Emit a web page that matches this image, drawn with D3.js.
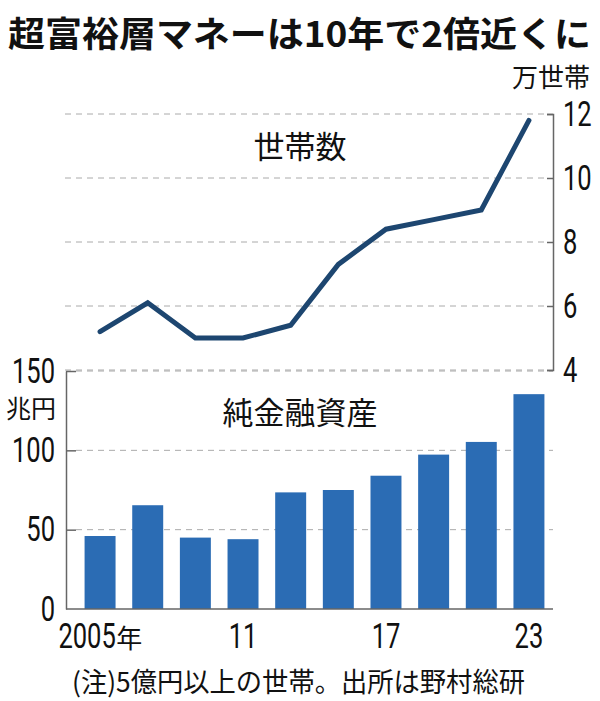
<!DOCTYPE html>
<html>
<head>
<meta charset="utf-8">
<script src="https://cdn.jsdelivr.net/npm/d3@7"></script>
<style>
  body { margin: 0; background: #fff; }
  svg { display: block; }
</style>
</head>
<body>
<div id="chart"></div>
<script>
const width = 600;
const height = 701;

// データ
const years = ["2005", "2007", "2009", "2011", "2013", "2015", "2017", "2019", "2021", "2023"];
const households = [5.2, 6.1, 5.0, 5.0, 5.4, 7.3, 8.4, 8.7, 9.0, 11.8]; // 万世帯
const assets = [46.0, 65.4, 45.0, 44.0, 73.5, 75.0, 84.0, 97.3, 105.3, 135.4]; // 兆円
const householdTicks = [4, 6, 8, 10, 12];
const assetTicks = [0, 50, 100, 150];
const xLabels = { "2005": "2005", "2011": "11", "2017": "17", "2023": "23" };

const numFont = "Roboto, 'Liberation Sans', sans-serif";
const jpFont = "'Noto Sans CJK JP', 'Noto Sans', sans-serif";
const numSize = 35;
const squeeze = 0.73; // 数字を細長くする横倍率
const digitW = 19.7 * squeeze;

const svg = d3.select("#chart").append("svg")
    .attr("width", width)
    .attr("height", height);

// スケール
const x = d3.scaleBand()
    .domain(years)
    .range([76, 553])
    .paddingInner(0.35)
    .paddingOuter(0.18);

const yLine = d3.scaleLinear().domain([4, 12]).range([370, 114]);
const yBar = d3.scaleLinear().domain([0, 150]).range([609, 371]);

// タイトル
svg.append("text")
    .attr("x", 8)
    .attr("y", 31)
    .attr("dominant-baseline", "central")
    .attr("font-family", jpFont)
    .attr("font-weight", "bold")
    .attr("font-size", 35)
    .attr("textLength", 583)
    .attr("lengthAdjust", "spacingAndGlyphs")
    .attr("fill", "#111")
    .text("超富裕層マネーは10年で2倍近くに");

// 上段：世帯数のグリッド
svg.append("g")
    .selectAll("line")
    .data(householdTicks)
    .join("line")
    .attr("x1", 65)
    .attr("x2", 547)
    .attr("y1", d => yLine(d))
    .attr("y2", d => yLine(d))
    .attr("stroke", "#aaa")
    .attr("stroke-width", 1)
    .attr("stroke-dasharray", "6,5");

// 下段：資産のグリッド
svg.append("g")
    .selectAll("line")
    .data(assetTicks.filter(d => d > 0))
    .join("line")
    .attr("x1", 76)
    .attr("x2", 553)
    .attr("y1", d => yBar(d))
    .attr("y2", d => yBar(d))
    .attr("stroke", "#aaa")
    .attr("stroke-width", 1)
    .attr("stroke-dasharray", "6,5");

// 棒グラフ
svg.append("g")
    .selectAll("rect")
    .data(years)
    .join("rect")
    .attr("x", d => x(d))
    .attr("width", x.bandwidth())
    .attr("y", (d, i) => yBar(assets[i]))
    .attr("height", (d, i) => yBar(0) - yBar(assets[i]))
    .attr("fill", "#2b6cb4");

// 折れ線
const line = d3.line()
    .x((d, i) => x(years[i]) + x.bandwidth() / 2)
    .y(d => yLine(d));

svg.append("path")
    .datum(households)
    .attr("d", line)
    .attr("fill", "none")
    .attr("stroke", "#1d4670")
    .attr("stroke-width", 5)
    .attr("stroke-linejoin", "miter")
    .attr("stroke-linecap", "round");

// 右軸（世帯数）
const rightAxis = svg.append("g")
    .attr("transform", "translate(553,0)")
    .call(d3.axisRight(yLine).tickValues(householdTicks).tickSize(-6).tickSizeOuter(-6).tickPadding(10));

// 左軸（資産）
const leftAxis = svg.append("g")
    .attr("transform", "translate(66,0)")
    .call(d3.axisLeft(yBar).tickValues(assetTicks).tickSize(-10).tickSizeOuter(0).tickPadding(11));

[rightAxis, leftAxis].forEach(g => {
    g.select(".domain").attr("stroke", "#666").attr("stroke-width", 1.5);
    g.selectAll(".tick line").attr("stroke", "#666").attr("stroke-width", 1.5);
    g.selectAll(".tick text").each(function() {
        const t = d3.select(this);
        const tx = +t.attr("x");
        t.attr("x", 0)
            .attr("transform", `translate(${tx},0) scale(${squeeze},1)`)
            .attr("font-family", numFont)
            .attr("font-size", numSize)
            .attr("fill", "#111");
    });
});
leftAxis.selectAll(".tick").filter(d => d === 0).select("line").remove();

// 基線
svg.append("line")
    .attr("x1", 66)
    .attr("x2", 553)
    .attr("y1", yBar(0))
    .attr("y2", yBar(0))
    .attr("stroke", "#666")
    .attr("stroke-width", 1.5);

// 横軸ラベル（数字部分と「年」を分けて配置）
const labelYears = years.filter(d => xLabels[d]);
const nenW = 26;
const digitsRight = d => {
    const cx = x(d) + x.bandwidth() / 2;
    const w = xLabels[d].length * digitW + (d === "2005" ? nenW : 0);
    return cx - w / 2 + xLabels[d].length * digitW;
};

svg.append("g")
    .selectAll("text")
    .data(labelYears)
    .join("text")
    .attr("transform", d => `translate(${digitsRight(d)},636) scale(${squeeze},1)`)
    .attr("dominant-baseline", "central")
    .attr("text-anchor", "end")
    .attr("font-family", numFont)
    .attr("font-size", numSize)
    .attr("fill", "#111")
    .text(d => xLabels[d]);

svg.append("text")
    .attr("x", digitsRight("2005") + 0.5)
    .attr("y", 636)
    .attr("dominant-baseline", "central")
    .attr("font-family", jpFont)
    .attr("font-size", nenW)
    .attr("fill", "#111")
    .text("年");

// 単位・系列名
svg.append("text")
    .attr("x", 590)
    .attr("y", 75)
    .attr("dominant-baseline", "central")
    .attr("text-anchor", "end")
    .attr("font-family", jpFont)
    .attr("font-size", 26)
    .attr("fill", "#111")
    .text("万世帯");

svg.append("text")
    .attr("x", 56)
    .attr("y", 407)
    .attr("dominant-baseline", "central")
    .attr("text-anchor", "end")
    .attr("font-family", jpFont)
    .attr("font-size", 25)
    .attr("fill", "#111")
    .text("兆円");

svg.append("text")
    .attr("x", 300)
    .attr("y", 144)
    .attr("dominant-baseline", "central")
    .attr("text-anchor", "middle")
    .attr("font-family", jpFont)
    .attr("font-size", 31)
    .attr("fill", "#111")
    .text("世帯数");

svg.append("text")
    .attr("x", 300)
    .attr("y", 410)
    .attr("dominant-baseline", "central")
    .attr("text-anchor", "middle")
    .attr("font-family", jpFont)
    .attr("font-size", 31)
    .attr("fill", "#111")
    .text("純金融資産");

// 注記
svg.append("text")
    .attr("x", 72)
    .attr("y", 680)
    .attr("dominant-baseline", "central")
    .attr("font-family", jpFont)
    .attr("font-size", 27)
    .attr("textLength", 453)
    .attr("lengthAdjust", "spacingAndGlyphs")
    .attr("fill", "#111")
    .text("(注)5億円以上の世帯。出所は野村総研");
</script>
</body>
</html>
